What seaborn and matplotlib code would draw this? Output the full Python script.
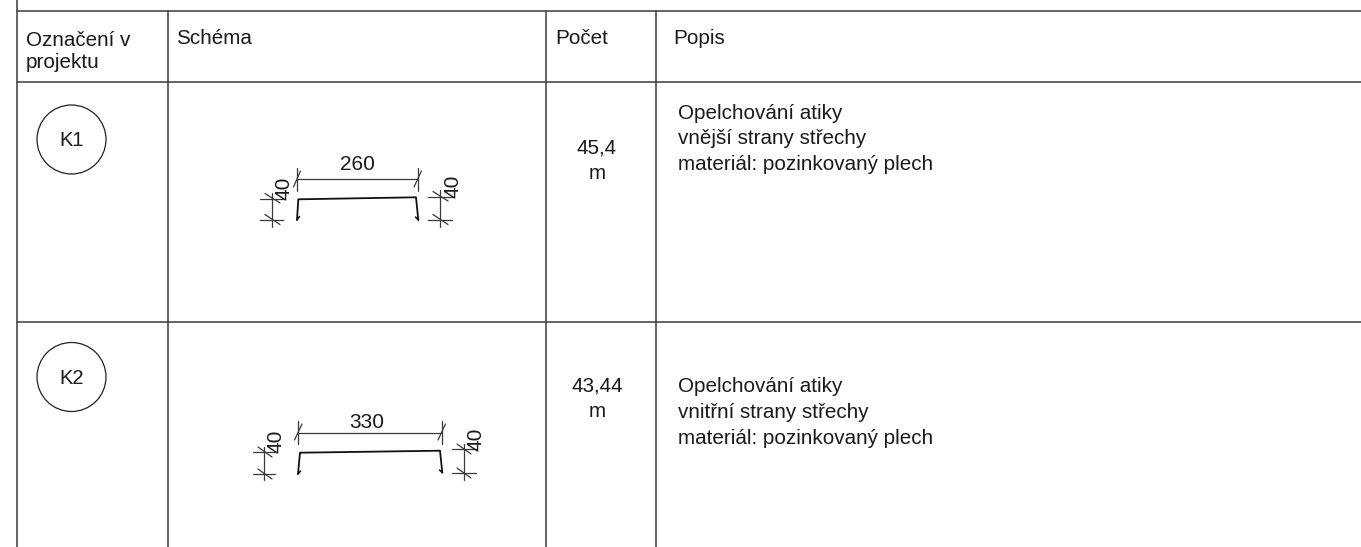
import pandas as pd
import seaborn as sns
import matplotlib.pyplot as plt
from matplotlib.patches import Circle

sns.set_theme(style='white')
plt.rcParams['font.family'] = ['Liberation Sans', 'DejaVu Sans']

# table grid (x1, y1, x2, y2)
grid = [
    (17, 0, 17, 547), (168, 11, 168, 547), (546, 11, 546, 547), (656, 11, 656, 547),
    (17, 11, 1361, 11), (17, 82, 1361, 82), (17, 322, 1361, 322),
]

# dimension lines of both schemes
dims = [
    # K1 top
    (296.7, 179.3, 417.7, 179.3), (296.7, 168, 296.7, 191), (417.7, 168, 417.7, 191),
    (293.5, 187, 300.5, 171), (414, 187, 421.5, 171),
    # K1 left
    (271.7, 193, 271.7, 227), (260, 199.3, 283, 199.3), (260, 220, 283, 220),
    (265, 193.5, 280, 203), (265, 214.5, 280, 224.5),
    # K1 right
    (440, 190, 440, 227), (428, 197, 452, 197), (428, 220, 452, 220),
    (433, 191.5, 448, 201), (433, 214.5, 448, 224.5),
    # K2 top
    (298.3, 432.7, 441.7, 432.7), (298.3, 421, 298.3, 444), (441.7, 421, 441.7, 444),
    (294.5, 440, 302, 424), (438, 440, 445.5, 424),
    # K2 left
    (264.3, 447, 264.3, 480), (253, 452, 275, 452), (253, 474, 275, 474),
    (258, 447, 272, 457), (258, 469, 272, 479),
    # K2 right
    (464, 444, 464, 480), (452, 449, 476, 449), (452, 473, 476, 473),
    (457, 444, 471, 454), (457, 468, 471, 478),
]

# sheet metal profiles, polylines
profile_k1 = [(297, 220), (298.3, 199.3), (416, 197.3), (418.3, 220)]
profile_k2 = [(298, 474), (300, 452.7), (440, 450.7), (442.3, 472.7)]
hooks = [
    (297, 220, 299.5, 216.5), (418.3, 220, 415.5, 217),
    (298, 474, 300.5, 471), (442.3, 472.7, 439.5, 470),
]

# circle marks: label, x, y, radius
marks = [('K1', 71.5, 139.5, 34.5), ('K2', 71.5, 377, 34.5)]

headers = [('Označení v\nprojektu', 26, 51.5), ('Schéma', 176.5, 38.5), ('Počet', 555, 38.5), ('Popis', 673, 38.5)]
counts = [('45,4\nm', 597, 161), ('43,44\nm', 597, 398.5)]
desc = [
    ('Opelchování atiky\nvnější strany střechy\nmateriál: pozinkovaný plech', 678, 139),
    ('Opelchování atiky\nvnitřní strany střechy\nmateriál: pozinkovaný plech', 678, 412.5),
]
dim_text = [('260', 357, 165, 0), ('330', 367, 423, 0),
            ('40', 284, 188, 90), ('40', 453, 186, 90),
            ('40', 276.5, 441.5, 90), ('40', 476.5, 439, 90)]


def seg_frame(segs):
    rows = []
    for i, (x1, y1, x2, y2) in enumerate(segs):
        rows.append({'id': i, 'x': x1, 'y': y1})
        rows.append({'id': i, 'x': x2, 'y': y2})
    return pd.DataFrame(rows)


def poly_frame(pts):
    return pd.DataFrame({'id': 0, 'x': [p[0] for p in pts], 'y': [p[1] for p in pts]})


fig, ax = plt.subplots(figsize=(13.61, 5.47), dpi=100)
ax.set_position([0, 0, 1, 1])

sns.lineplot(data=seg_frame(grid), x='x', y='y', units='id', estimator=None, sort=False,
             color='#3c3c3c', linewidth=1.1, ax=ax)
sns.lineplot(data=seg_frame(dims), x='x', y='y', units='id', estimator=None, sort=False,
             color='#3a3a3a', linewidth=0.9, ax=ax)
for prof in (profile_k1, profile_k2):
    sns.lineplot(data=poly_frame(prof), x='x', y='y', units='id', estimator=None, sort=False,
                 color='#111111', linewidth=1.3, ax=ax)
sns.lineplot(data=seg_frame(hooks), x='x', y='y', units='id', estimator=None, sort=False,
             color='#111111', linewidth=1.1, ax=ax)

for name, x, y, r in marks:
    ax.add_patch(Circle((x, y), r, fill=False, edgecolor='#222222', linewidth=0.9))
    ax.text(x, y + 1, name, ha='center', va='center', fontsize=14.5, color='#1a1a1a')

for s, x, y in headers:
    ax.text(x, y, s, ha='left', va='center', fontsize=14.9, color='#1a1a1a', linespacing=1.25)
for s, x, y in counts:
    ax.text(x, y, s, ha='center', va='center', fontsize=14.9, color='#1a1a1a', linespacing=1.44)
for s, x, y in desc:
    ax.text(x, y, s, ha='left', va='center', fontsize=14.9, color='#1a1a1a', linespacing=1.44)
for s, x, y, rot in dim_text:
    ax.text(x, y, s, ha='center', va='center', rotation=rot, fontsize=15, color='#1a1a1a')

ax.set_xlim(0, 1361)
ax.set_ylim(547, 0)
ax.axis('off')
fig.savefig('out.png', dpi=100)
